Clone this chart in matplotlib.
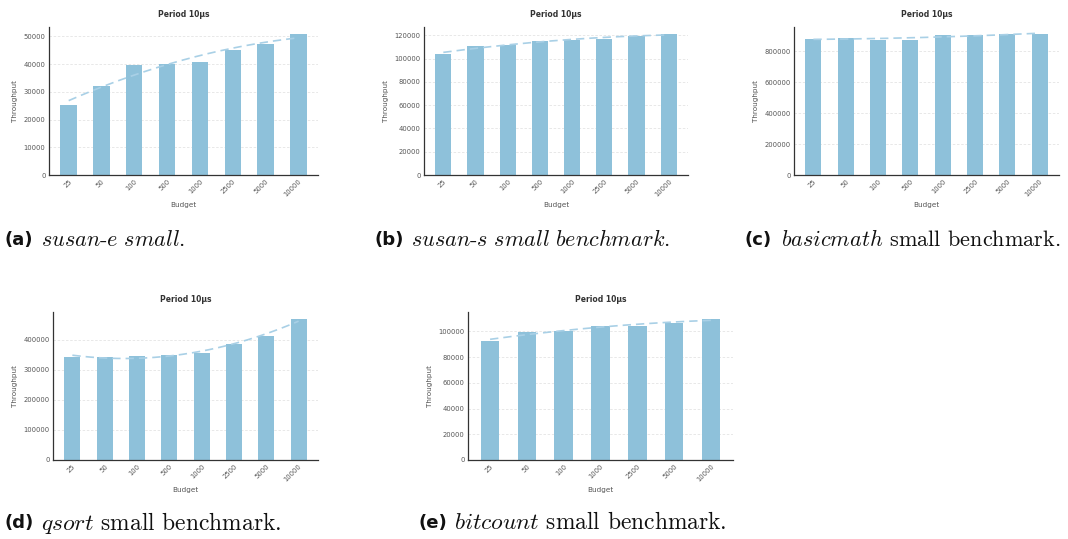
import numpy as np
import matplotlib
matplotlib.use("Agg")
import matplotlib.pyplot as plt

# Budgets tested per benchmark
budgets_full = ["25", "50", "100", "500", "1000", "2500", "5000", "10000"]
budgets_bitcount = ["25", "50", "100", "1000", "2500", "5000", "10000"]

# Measured throughput (period 10 µs)
susan_e = [25200, 32000, 39600, 40000, 40700, 45000, 47100, 50800]
susan_s = [104000, 110900, 111700, 115200, 116300, 116900, 119500, 121200]
basicmath = [877000, 884000, 873000, 873000, 903000, 903000, 910000, 910000]
qsort = [342500, 342500, 345700, 349000, 355700, 385600, 412200, 468700]
bitcount = [92500, 99500, 100500, 104100, 104100, 106500, 109600]

captions = [
    ("(a)", r"$\mathit{susan}$-$\mathit{e\ small}$."),
    ("(b)", r"$\mathit{susan}$-$\mathit{s\ small\ benchmark}$."),
    ("(c)", r"$\mathit{basicmath}$ small benchmark."),
    ("(d)", r"$\mathit{qsort}$ small benchmark."),
    ("(e)", r"$\mathit{bitcount}$ small benchmark."),
]

plt.rcParams["mathtext.fontset"] = "cm"

BAR = "#8ec1da"
TREND = "#a9d0e6"

W, H = 1068, 539
fig = plt.figure(figsize=(W / 100, H / 100), dpi=100)


def px_axes(left, top, right, bottom):
    return fig.add_axes([left / W, 1 - bottom / H, (right - left) / W, (bottom - top) / H])


def panel(ax, labels, values):
    n = len(values)
    x = np.arange(n)
    ax.set_axisbelow(True)
    ax.yaxis.grid(True, color="#e4e4e4", linestyle=(0, (3, 2)), linewidth=0.6)
    ax.bar(x, values, width=0.5, color=BAR, zorder=2)
    coef = np.polyfit(x, values, 2)
    xs = np.linspace(0, n - 1, 200)
    ax.plot(xs, np.polyval(coef, xs), color=TREND, linestyle=(0, (5, 3)),
            linewidth=1.2, zorder=3)
    ax.set_xlim(-0.6, n - 0.4)
    ax.set_ylim(0, max(values) * 1.05)
    ax.set_xticks(x)
    ax.set_xticklabels(labels, rotation=45, ha="right", rotation_mode="anchor")
    ax.tick_params(axis="both", length=0, labelsize=4.9, colors="#555555", pad=2.5)
    for s in ("top", "right"):
        ax.spines[s].set_visible(False)
    for s in ("left", "bottom"):
        ax.spines[s].set_color("#333333")
        ax.spines[s].set_linewidth(0.9)
    ax.set_title("Period 10µs", fontsize=5.5, fontweight="bold", color="#333333", pad=7)
    ax.set_xlabel("Budget", fontsize=5.2, color="#555555", labelpad=3)
    ax.set_ylabel("Throughput", fontsize=5.2, color="#555555", labelpad=4)


axes_px = [
    (49, 27, 318, 175),
    (424, 27, 688, 175),
    (794, 27, 1059, 175),
    (53, 312, 318, 460),
    (468, 312, 733, 460),
]
series = [
    (budgets_full, susan_e),
    (budgets_full, susan_s),
    (budgets_full, basicmath),
    (budgets_full, qsort),
    (budgets_bitcount, bitcount),
]
for box, (labs, vals) in zip(axes_px, series):
    panel(px_axes(*box), labs, vals)

# caption anchor (px), caption text size
caption_pos = [(5, 240, 16), (375, 240, 16), (745, 240, 16), (5, 523, 16.9), (418, 523, 16.9)]
for (tag, text), (cx, cy, fs) in zip(captions, caption_pos):
    fig.text(cx / W, 1 - cy / H, tag, fontsize=13, fontweight="bold",
             family="DejaVu Sans", va="center", ha="left", color="#111111")
    fig.text((cx + 36) / W, 1 - cy / H, text, fontsize=fs, family="cmr10",
             va="center", ha="left", color="#111111")

fig.savefig("out.png", dpi=100)
